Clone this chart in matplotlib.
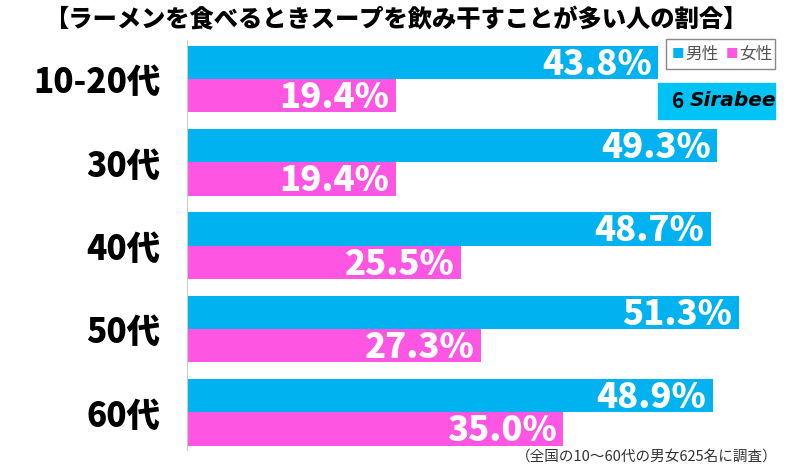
import numpy as np
import matplotlib.pyplot as plt
from matplotlib.patches import Rectangle

plt.rcParams['font.family'] = ['Noto Sans CJK JP', 'DejaVu Sans']

categories = ['10-20代', '30代', '40代', '50代', '60代']
male = [43.8, 49.3, 48.7, 51.3, 48.9]
female = [19.4, 19.4, 25.5, 27.3, 35.0]

blue = '#00b2f0'
pink = '#ff55e3'

fig = plt.figure(figsize=(8, 4.66), dpi=100)
ax = fig.add_axes([187 / 800, 1 - 450 / 466, 613 / 800, 410 / 466])

y = np.arange(len(categories))
h = 0.4
ax.barh(y - h / 2, male, height=h, color=blue)
ax.barh(y + h / 2, female, height=h, color=pink)

for i in range(len(categories)):
    ax.text(male[i] - 0.6, y[i] - h / 2 + 0.02, f'{male[i]:.1f}%', color='white',
            fontsize=25, fontweight='heavy', ha='right', va='center')
    ax.text(female[i] - 0.6, y[i] + h / 2 + 0.02, f'{female[i]:.1f}%', color='white',
            fontsize=25, fontweight='heavy', ha='right', va='center')

ax.set_xlim(0, 57)
ax.set_ylim(4.45, -0.47)
ax.set_yticks(y)
ax.set_yticklabels(categories, fontsize=24, fontweight='heavy')
ax.tick_params(axis='y', length=0, pad=19)
ax.set_xticks([])
for s in ['top', 'right', 'bottom']:
    ax.spines[s].set_visible(False)
ax.spines['left'].set_color('#cccccc')

fig.text(0.495, 1 - 20 / 466, '【ラーメンを食べるときスープを飲み干すことが多い人の割合】',
         ha='center', va='center', fontsize=17.5, fontweight='heavy')
fig.text(778 / 800, 1 - 457 / 466, '（全国の10～60代の男女625名に調査）',
         ha='right', va='center', fontsize=10.5, color='#333333')

# legend
fig.patches.append(Rectangle((666 / 800, 1 - 69 / 466), 109 / 800, 30 / 466,
                             transform=fig.transFigure, fill=False, ec='#888888', lw=1))
fig.text(672 / 800, 1 - 54 / 466, '■', color=blue, fontsize=9, va='center')
fig.text(685 / 800, 1 - 54 / 466, '男性', color='#555555', fontsize=12, va='center')
fig.text(726 / 800, 1 - 54 / 466, '■', color=pink, fontsize=9, va='center')
fig.text(739 / 800, 1 - 54 / 466, '女性', color='#555555', fontsize=12, va='center')

# logo
fig.patches.append(Rectangle((658 / 800, 1 - 119 / 466), 117 / 800, 36 / 466,
                             transform=fig.transFigure, color='#00c3f5'))
fig.text(672 / 800, 1 - 101 / 466, '6', fontsize=15, fontweight='bold', va='center')
fig.text(690 / 800, 1 - 101 / 466, 'Sirabee', fontsize=14.5, fontweight='bold',
         fontstyle='italic', va='center', family='DejaVu Sans')

fig.savefig('out.png', dpi=100)
